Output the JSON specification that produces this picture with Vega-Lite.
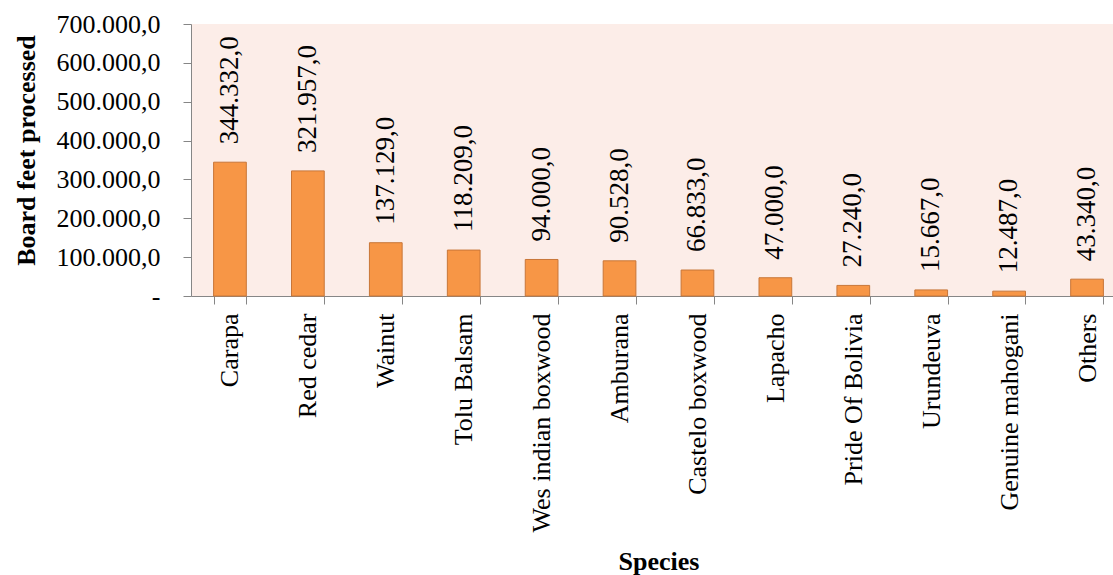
{
  "$schema": "https://vega.github.io/schema/vega-lite/v6.json",
  "width": 922,
  "height": 272,
  "autosize": {"type": "none"},
  "padding": {"left": 191, "top": 24, "right": 0, "bottom": 279},
  "background": "#ffffff",
  "config": {
    "locale": {"number": {"decimal": ",", "thousands": ".", "grouping": [3], "currency": ["", ""]}},
    "view": {"fill": "#FCEDE8", "stroke": null},
    "axis": {"grid": false, "domainColor": "#868686", "tickColor": "#868686", "labelColor": "#000000", "titleColor": "#000000", "labelFont": "Liberation Serif", "titleFont": "Liberation Serif", "labelFontSize": 26, "titleFontSize": 26, "titleFontWeight": "bold", "tickSize": 8}
  },
  "data": {
    "values": [
      {"species": "Carapa", "value": 344332},
      {"species": "Red cedar", "value": 321957},
      {"species": "Wainut", "value": 137129},
      {"species": "Tolu Balsam", "value": 118209},
      {"species": "Wes indian boxwood", "value": 94000},
      {"species": "Amburana", "value": 90528},
      {"species": "Castelo boxwood", "value": 66833},
      {"species": "Lapacho", "value": 47000},
      {"species": "Pride Of Bolivia", "value": 27240},
      {"species": "Urundeuva", "value": 15667},
      {"species": "Genuine mahogani", "value": 12487},
      {"species": "Others", "value": 43340}
    ]
  },
  "encoding": {
    "x": {
      "field": "species", "type": "nominal", "sort": null,
      "scale": {"range": [0, 935], "paddingInner": 0.58, "paddingOuter": 0.29},
      "axis": {"title": "Species", "labelAngle": 270, "labelPadding": 9, "tickBand": "extent", "titleY": 252, "titleBaseline": "top", "labelLimit": 400, "labelFont": "Liberation Serif", "titleFont": "Liberation Serif"}
    },
    "y": {
      "field": "value", "type": "quantitative",
      "scale": {"domain": [0, 700000]},
      "axis": {"title": "Board feet processed", "values": [0, 100000, 200000, 300000, 400000, 500000, 600000, 700000], "format": ",.1f", "labelExpr": "datum.value == 0 ? '-\u00a0\u00a0\u00a0' : datum.label", "labelPadding": 23, "labelFont": "Liberation Serif", "labelFontSize": 26, "titleFont": "Liberation Serif", "titleX": -152, "titleY": 126, "titleAngle": 270, "titleAlign": "center", "titleBaseline": "bottom", "labelLimit": 300}
    }
  },
  "layer": [
    {"mark": {"type": "bar", "fill": "#F79646", "stroke": "#C87638", "strokeWidth": 1}},
    {
      "mark": {"type": "text", "angle": 270, "align": "left", "baseline": "middle", "dx": 18, "font": "Liberation Serif", "fontSize": 27, "color": "#000000"},
      "encoding": {"text": {"field": "value", "type": "quantitative", "format": ",.1f"}}
    }
  ]
}
